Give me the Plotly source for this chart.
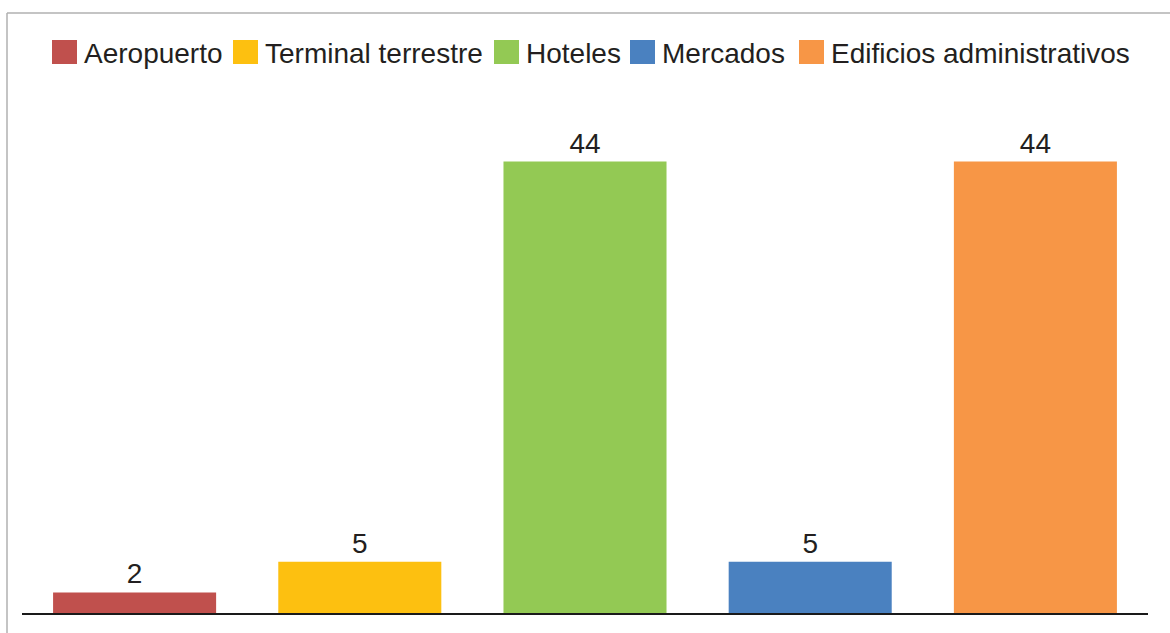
import plotly.graph_objects as go

categories = ["Aeropuerto", "Terminal terrestre", "Hoteles", "Mercados", "Edificios administrativos"]
values = [2, 5, 44, 5, 44]
colors = ["#C0504D", "#FDC010", "#93C954", "#4A81C0", "#F79646"]

W, H = 1170, 633
ML, MR, MT, MB = 22, 22, 100, 20
PW, PH = W - ML - MR, H - MT - MB

def px_x(x):
    return (x - ML) / PW

def px_y(y):
    return (H - MB - y) / PH

TEXT = "#231F20"
FONT = "Liberation Sans, Arial, sans-serif"

fig = go.Figure()
fig.add_trace(go.Bar(
    x=categories, y=values,
    marker=dict(color=colors, line=dict(width=0)),
    text=[str(v) for v in values], textposition="outside",
    textfont=dict(size=28, color=TEXT, family=FONT),
    cliponaxis=False, showlegend=False,
))

# custom legend (large square swatches)
legend_swatch_x = [52, 233, 494, 630, 799]
shapes = []
annotations = []
for name, col, sx in zip(categories, colors, legend_swatch_x):
    shapes.append(dict(type="rect", xref="paper", yref="paper",
                       x0=px_x(sx), x1=px_x(sx + 25), y0=px_y(64), y1=px_y(40),
                       fillcolor=col, line=dict(width=0)))
    annotations.append(dict(xref="paper", yref="paper", x=px_x(sx + 30), y=px_y(53),
                            xanchor="left", yanchor="middle", showarrow=False,
                            text=name, font=dict(size=28, color=TEXT, family=FONT)))

# outer border (top and left visible)
shapes.append(dict(type="line", xref="paper", yref="paper",
                   x0=px_x(7), x1=px_x(1175), y0=px_y(13), y1=px_y(13),
                   line=dict(color="#B0B0B0", width=1.5)))
shapes.append(dict(type="line", xref="paper", yref="paper",
                   x0=px_x(7), x1=px_x(7), y0=px_y(13), y1=px_y(640),
                   line=dict(color="#B0B0B0", width=1.5)))

fig.update_layout(
    width=W, height=H,
    margin=dict(l=ML, r=MR, t=MT, b=MB),
    paper_bgcolor="white", plot_bgcolor="white",
    bargap=0.276,
    showlegend=False,
    shapes=shapes, annotations=annotations,
    font=dict(family=FONT, color=TEXT),
    xaxis=dict(showticklabels=False, ticks="", showgrid=False, zeroline=False,
               showline=True, linecolor="#1A1A1A", linewidth=2, range=[-0.5, 4.5]),
    yaxis=dict(range=[0, 50], showticklabels=False, ticks="", showgrid=False,
               zeroline=False, showline=False),
)

fig.write_html("out.html")
